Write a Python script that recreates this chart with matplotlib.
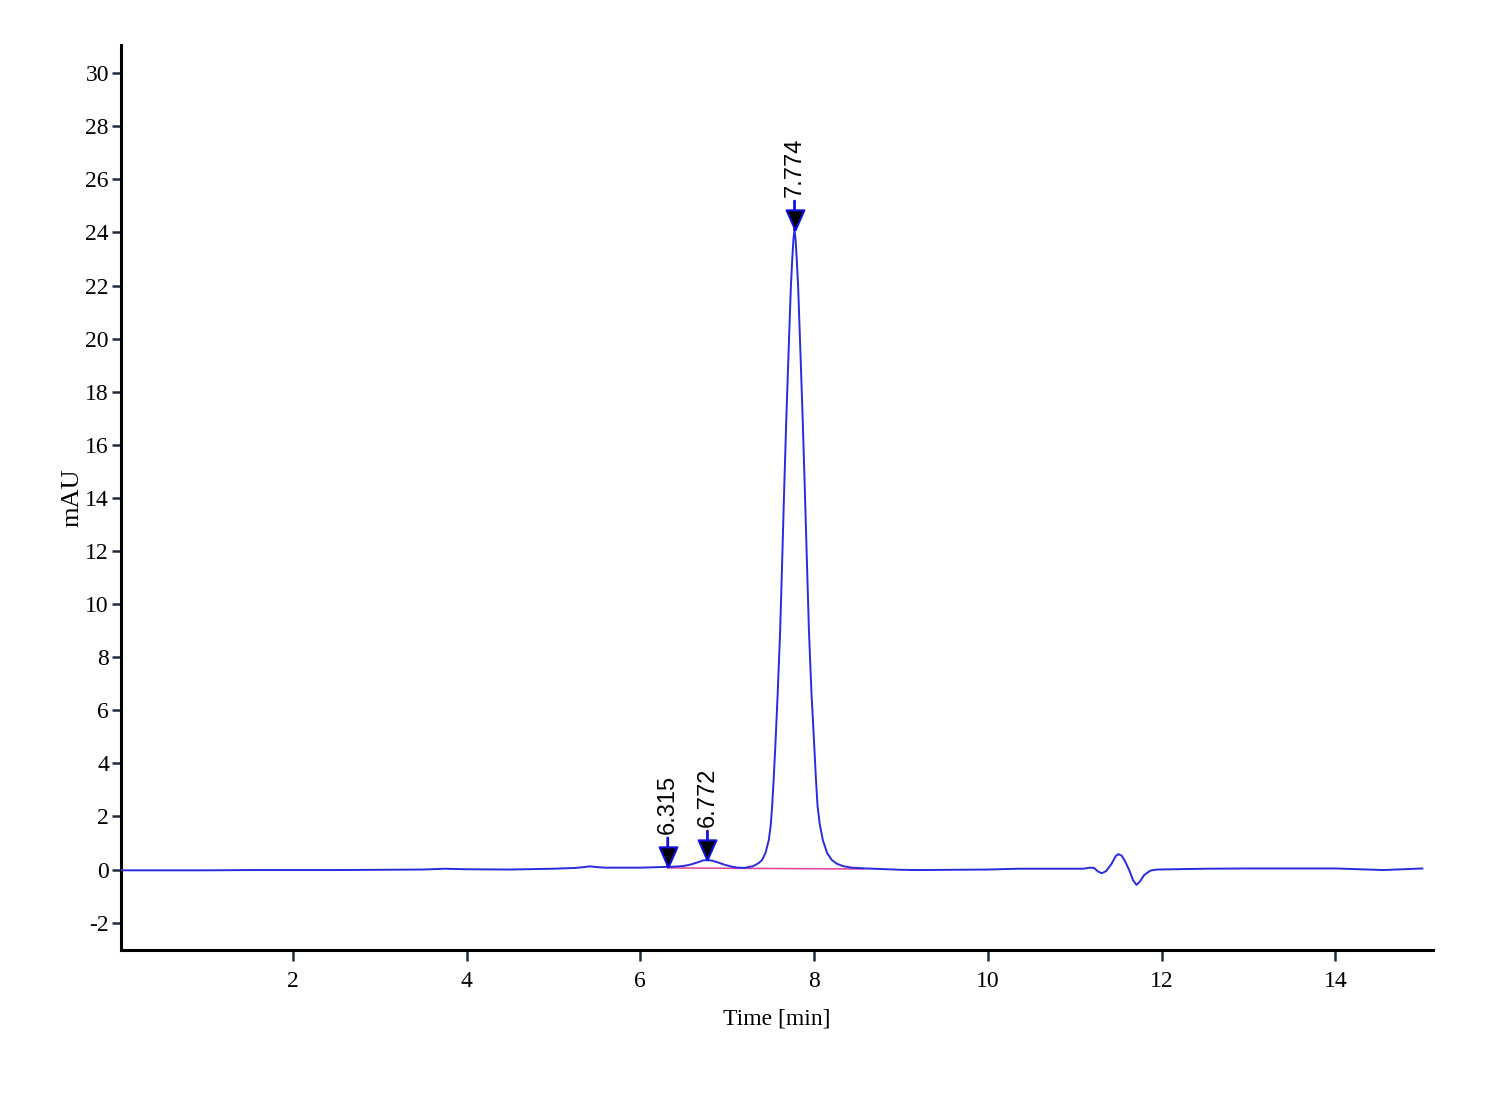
import matplotlib
matplotlib.use("Agg")
import matplotlib.pyplot as plt

plt.rcParams["axes.unicode_minus"] = False

# ---- data ----
time_min = [0.02, 0.5, 1.0, 1.5, 2.0, 2.5, 3.0, 3.5, 3.75, 4.0, 4.5, 5.0,
            5.25, 5.35, 5.42, 5.5, 5.6, 6.0,
            6.315, 6.40, 6.49, 6.57, 6.65, 6.72, 6.772, 6.83, 6.90, 6.97,
            7.05, 7.12, 7.20,
            7.30, 7.36, 7.401, 7.44, 7.478, 7.50, 7.516, 7.535, 7.555, 7.58,
            7.609, 7.632, 7.655, 7.68, 7.707, 7.732, 7.749, 7.762, 7.774,
            7.786, 7.799, 7.816, 7.841, 7.868, 7.893, 7.916, 7.940, 7.97,
            8.000, 8.02, 8.039, 8.065, 8.100, 8.15, 8.203, 8.26, 8.33, 8.43,
            8.6, 9.0, 9.2, 10.0, 10.35,
            11.1, 11.17, 11.22, 11.27, 11.31, 11.36, 11.42, 11.47, 11.50,
            11.54, 11.58, 11.63, 11.67, 11.71, 11.75, 11.80, 11.87, 11.95,
            12.5, 13.0, 14.0, 14.55, 15.0]
signal_mau = [-0.03, -0.03, -0.03, -0.02, -0.02, -0.02, -0.01, 0.0, 0.03, 0.01,
              0.0, 0.03,
              0.06, 0.09, 0.12, 0.09, 0.07, 0.07,
              0.10, 0.11, 0.13, 0.18, 0.26, 0.34, 0.36, 0.33, 0.26, 0.18,
              0.11, 0.07, 0.06,
              0.13, 0.24, 0.36, 0.62, 1.11, 1.65, 2.35, 3.45, 4.75, 6.60,
              9.0, 11.6, 14.3, 17.0, 19.6, 21.94, 23.05, 23.75, 24.09,
              23.75, 23.05, 21.94, 19.6, 17.0, 14.3, 11.7, 9.0, 6.6,
              4.75, 3.45, 2.40, 1.70, 1.11, 0.62, 0.36, 0.22, 0.13, 0.07,
              0.04, -0.01, -0.02, 0.0, 0.03,
              0.03, 0.07, 0.06, -0.08, -0.14, -0.06, 0.20, 0.50, 0.58,
              0.52, 0.30, -0.05, -0.40, -0.58, -0.45, -0.20, -0.04, 0.0,
              0.03, 0.04, 0.04, -0.02, 0.04]

baseline_t = [6.315, 8.57]
baseline_y = [0.06, 0.02]

peak_times = [6.315, 6.772, 7.774]
peak_heights = [0.10, 0.36, 24.09]
peak_labels = ["6.315", "6.772", "7.774"]

x_ticks = [2, 4, 6, 8, 10, 12, 14]
y_ticks = list(range(-2, 31, 2))

# ---- figure ----
fig = plt.figure(figsize=(15, 11), dpi=100)
ax = fig.add_axes([0.0805, 0.1364, 0.8747, 0.8227])

ax.plot(baseline_t, baseline_y, color="#e0409a", lw=1.1, zorder=2)
ax.plot(time_min, signal_mau, color="#2a2ae0", lw=1.4, zorder=3)

tri = [(0, 0), (-0.44, 1), (0.44, 1), (0, 0)]
for t, h, lab in zip(peak_times, peak_heights, peak_labels):
    ax.annotate("", xy=(t, h), xytext=(0, 29), textcoords="offset pixels",
                arrowprops=dict(arrowstyle="-", color="#1010e0", lw=2,
                                shrinkA=0, shrinkB=0), zorder=4)
    ax.plot([t], [h], marker=tri, markersize=29, markerfacecolor="black",
            markeredgecolor="#1010e0", markeredgewidth=1.5, linestyle="none",
            zorder=5)
    ax.annotate(lab, xy=(t, h), xytext=(0, 33), textcoords="offset pixels",
                rotation=90, ha="center", va="bottom", fontsize=17,
                family="Liberation Sans", color="black", zorder=6)

ax.set_xlim(0.02, 15.12)
ax.set_ylim(-3.03, 31.06)
ax.set_xticks(x_ticks)
ax.set_yticks(y_ticks)

for s in ["top", "right"]:
    ax.spines[s].set_visible(False)
for s in ["left", "bottom"]:
    ax.spines[s].set_linewidth(2.2)
    ax.spines[s].set_color("black")

ax.tick_params(axis="both", direction="out", length=6.5, width=1.8,
               color="#1f2d3d", labelsize=17, pad=2)
ax.tick_params(axis="x", length=8, pad=7)
for lbl in ax.get_xticklabels() + ax.get_yticklabels():
    lbl.set_family("Liberation Serif")

ax.set_xlabel("Time [min]", fontsize=17, family="Liberation Serif", labelpad=12)
ax.set_ylabel("mAU", fontsize=19, family="Liberation Serif", labelpad=1)

fig.savefig("out.png", dpi=100, facecolor="white")
